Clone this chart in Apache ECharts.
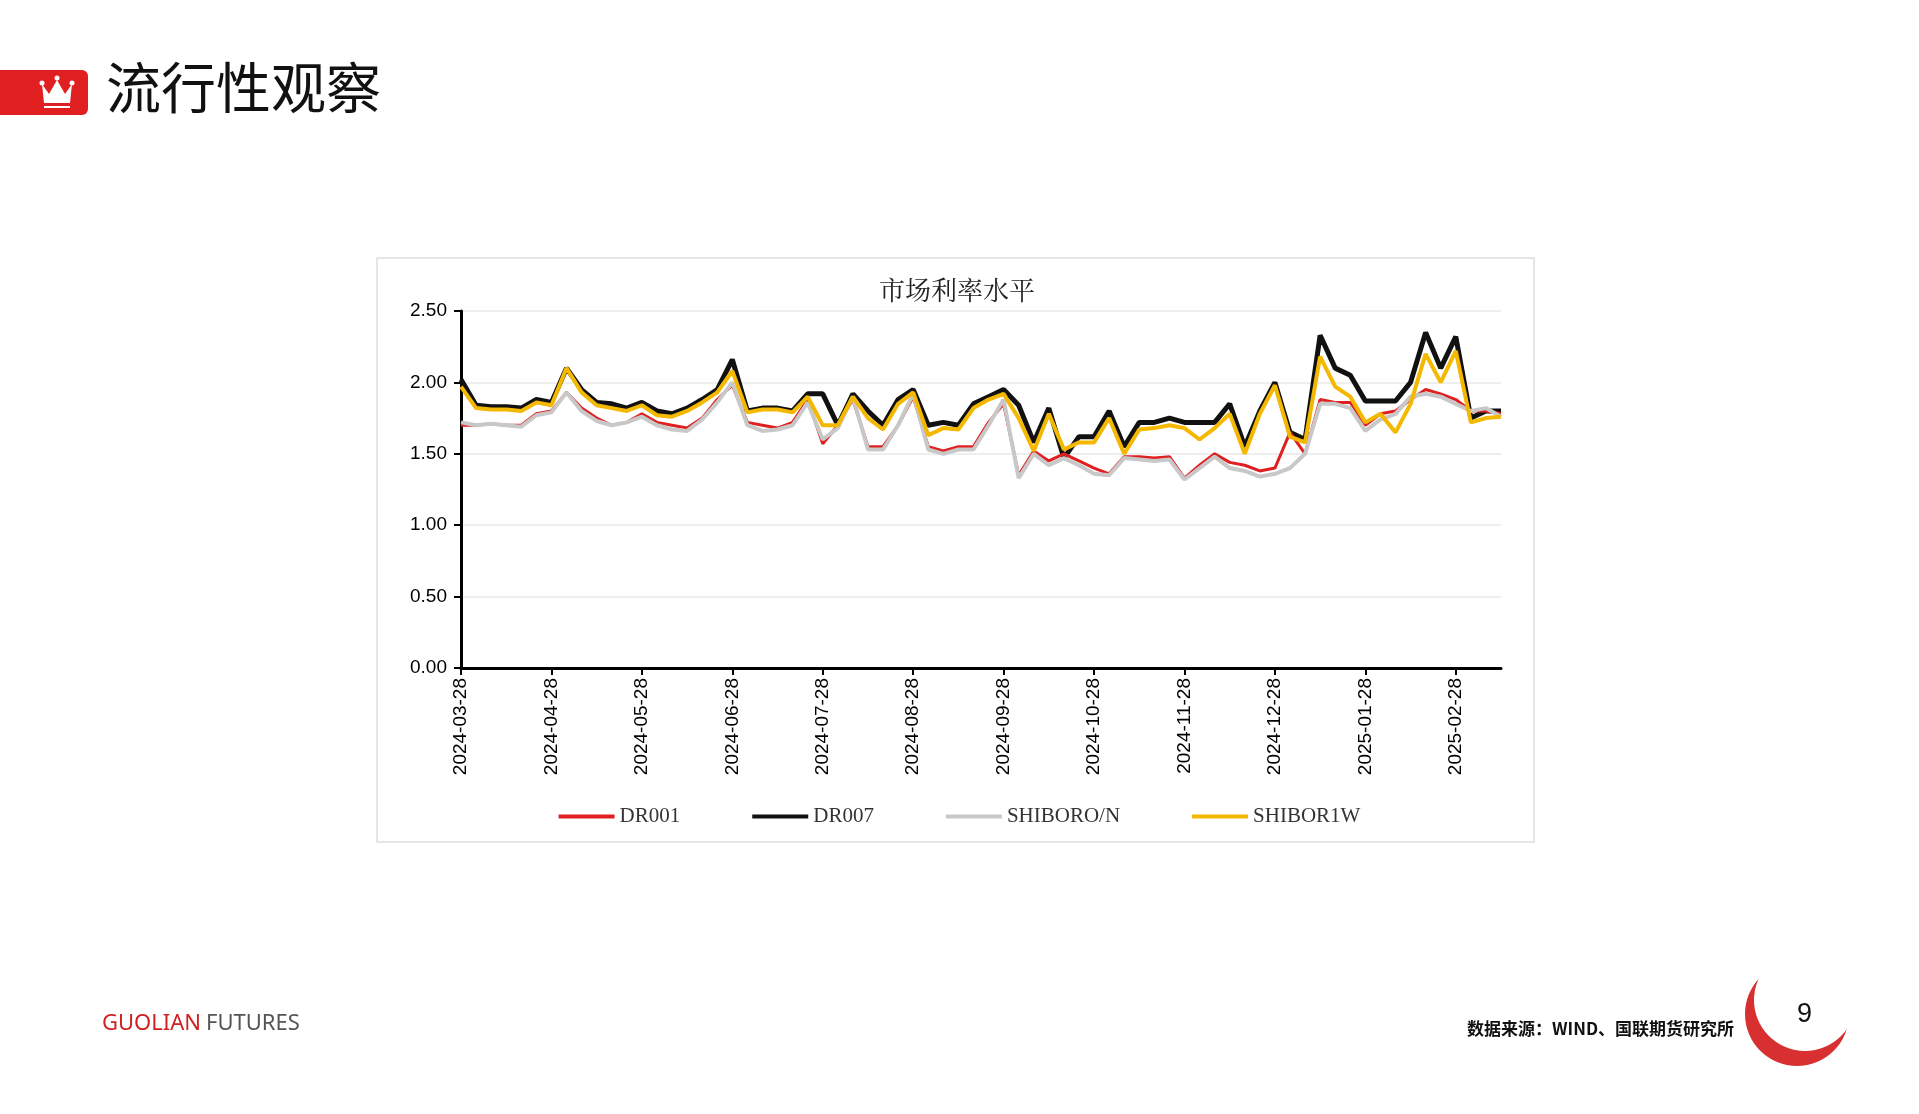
<!DOCTYPE html>
<html><head><meta charset="utf-8">
<script src="https://cdn.jsdelivr.net/npm/echarts@6/dist/echarts.min.js"></script>
<style>html,body{margin:0;padding:0;background:#fff}#c{width:1919px;height:1114px}</style>
</head><body><div id="c"></div>
<script>
const dates = ['2024-03-28',
'2024-04-03','2024-04-08','2024-04-13','2024-04-18','2024-04-23','2024-04-28',
'2024-05-03','2024-05-08','2024-05-13','2024-05-18','2024-05-23','2024-05-28',
'2024-06-03','2024-06-08','2024-06-13','2024-06-18','2024-06-23','2024-06-28',
'2024-07-03','2024-07-08','2024-07-13','2024-07-18','2024-07-23','2024-07-28',
'2024-08-03','2024-08-08','2024-08-13','2024-08-18','2024-08-23','2024-08-28',
'2024-09-03','2024-09-08','2024-09-13','2024-09-18','2024-09-23','2024-09-28',
'2024-10-03','2024-10-08','2024-10-13','2024-10-18','2024-10-23','2024-10-28',
'2024-11-03','2024-11-08','2024-11-13','2024-11-18','2024-11-23','2024-11-28',
'2024-12-03','2024-12-08','2024-12-13','2024-12-18','2024-12-23','2024-12-28',
'2025-01-03','2025-01-08','2025-01-13','2025-01-18','2025-01-23','2025-01-28',
'2025-02-03','2025-02-08','2025-02-13','2025-02-18','2025-02-23','2025-02-28',
'2025-03-03','2025-03-08','2025-03-13'];
const dr007 = [2.02,
1.84,1.83,1.83,1.82,1.88,1.86,
2.10,1.95,1.86,1.85,1.82,1.86,
1.80,1.78,1.82,1.88,1.95,2.16,
1.80,1.82,1.82,1.80,1.92,1.92,
1.70,1.92,1.80,1.70,1.88,1.95,
1.70,1.72,1.70,1.85,1.90,1.95,
1.84,1.58,1.82,1.47,1.62,1.62,
1.80,1.55,1.72,1.72,1.75,1.72,
1.72,1.72,1.85,1.55,1.80,2.00,
1.65,1.60,2.33,2.10,2.05,1.87,
1.87,1.87,2.00,2.35,2.10,2.32,
1.75,1.80,1.80];
const shibor1w = [1.97,
1.82,1.81,1.81,1.80,1.86,1.84,
2.10,1.93,1.84,1.82,1.80,1.84,
1.77,1.76,1.80,1.86,1.93,2.08,
1.79,1.81,1.81,1.79,1.90,1.70,
1.70,1.90,1.75,1.67,1.85,1.93,
1.63,1.68,1.67,1.82,1.88,1.92,
1.75,1.52,1.78,1.53,1.58,1.58,
1.75,1.50,1.67,1.68,1.70,1.68,
1.60,1.68,1.78,1.50,1.78,1.98,
1.62,1.58,2.18,1.97,1.90,1.72,
1.78,1.65,1.85,2.20,2.00,2.22,
1.72,1.75,1.76];
const dr001 = [1.70,
1.70,1.71,1.70,1.70,1.78,1.80,
1.93,1.82,1.75,1.70,1.72,1.78,
1.72,1.70,1.68,1.75,1.88,1.98,
1.72,1.70,1.68,1.72,1.88,1.57,
1.70,1.88,1.55,1.55,1.70,1.90,
1.55,1.52,1.55,1.55,1.72,1.85,
1.35,1.52,1.45,1.50,1.45,1.40,
1.36,1.48,1.48,1.47,1.48,1.33,
1.42,1.50,1.44,1.42,1.38,1.40,
1.65,1.50,1.88,1.86,1.86,1.70,
1.78,1.80,1.88,1.95,1.92,1.88,
1.80,1.80,1.78];
const shiborON = [1.72,
1.70,1.71,1.70,1.69,1.77,1.79,
1.93,1.80,1.73,1.70,1.72,1.76,
1.70,1.67,1.66,1.74,1.86,2.00,
1.70,1.66,1.67,1.70,1.86,1.60,
1.68,1.90,1.53,1.53,1.70,1.92,
1.53,1.50,1.53,1.53,1.70,1.88,
1.33,1.50,1.42,1.47,1.42,1.36,
1.35,1.47,1.46,1.45,1.46,1.32,
1.40,1.48,1.40,1.38,1.34,1.36,
1.40,1.50,1.85,1.85,1.82,1.66,
1.74,1.78,1.90,1.92,1.90,1.85,
1.80,1.82,1.76];

const chart = echarts.init(document.getElementById('c'));
const lab = {fontFamily:'Liberation Sans, Arial', fontSize:19, color:'#000'};
const is28 = (i, v) => v.endsWith('-28');
chart.setOption({
  animation:false,
  title:{text:'市场利率水平', left:952, top:272, textAlign:'center',
    textStyle:{fontFamily:'Noto Serif CJK SC, serif', fontWeight:'normal', fontSize:26, color:'#222'}},
  legend:{top:801, left:'center', itemWidth:56, itemHeight:4, itemGap:72, icon:'rect',
    data:['DR001','DR007','SHIBORO/N','SHIBOR1W'],
    textStyle:{fontFamily:'Liberation Serif, serif', fontSize:21, color:'#333'}},
  grid:{left:461, right:418, top:311, bottom:446, containLabel:false},
  xAxis:{type:'category', data:dates, boundaryGap:false,
    axisLine:{lineStyle:{color:'#000', width:3}},
    axisTick:{interval:is28, length:7, lineStyle:{color:'#000', width:2}},
    axisLabel:Object.assign({}, lab, {interval:is28, rotate:90, margin:10})},
  yAxis:{type:'value', min:0, max:2.5, interval:0.5,
    axisLine:{show:true, lineStyle:{color:'#000', width:3}},
    axisTick:{show:true, length:7, lineStyle:{color:'#000', width:2}},
    splitLine:{lineStyle:{color:'#eee', width:2}},
    axisLabel:Object.assign({}, lab, {formatter:v=>v.toFixed(2), margin:14})},
  series:[
    {name:'DR007', type:'line', data:dr007, showSymbol:false, lineStyle:{color:'#111', width:5}, itemStyle:{color:'#111'}, z:2},
    {name:'DR001', type:'line', data:dr001, showSymbol:false, lineStyle:{color:'#e02020', width:3}, itemStyle:{color:'#e02020'}, z:3},
    {name:'SHIBORO/N', type:'line', data:shiborON, showSymbol:false, lineStyle:{color:'#c8c8c8', width:4}, itemStyle:{color:'#c8c8c8'}, z:4},
    {name:'SHIBOR1W', type:'line', data:shibor1w, showSymbol:false, lineStyle:{color:'#f5b800', width:4}, itemStyle:{color:'#f5b800'}, z:5}
  ],
  graphic:[
    {type:'rect', shape:{x:377,y:258,width:1157,height:584}, style:{fill:'none', stroke:'#ddd', lineWidth:1.5}, silent:true},
    {type:'rect', shape:{x:-10,y:70,width:98,height:45,r:6}, style:{fill:'#e02020'}},
    {type:'polygon', shape:{points:[[42,84],[49,94],[57,80],[65,94],[72,84],[70,103],[44,103]]}, style:{fill:'#fff'}},
    {type:'circle', shape:{cx:42,cy:83,r:2.5}, style:{fill:'#fff'}},
    {type:'circle', shape:{cx:57,cy:78,r:2.5}, style:{fill:'#fff'}},
    {type:'circle', shape:{cx:72,cy:83,r:2.5}, style:{fill:'#fff'}},
    {type:'rect', shape:{x:44,y:106,width:26,height:2}, style:{fill:'#fff'}},
    {type:'text', left:106, top:60, style:{text:'流行性观察', font:'55px "Noto Sans CJK SC"', fill:'#111'}},
    {type:'text', left:102, top:1013, style:{text:'GUOLIAN', font:'22px "Noto Sans", sans-serif', fill:'#d02020'}},
    {type:'text', left:206, top:1013, style:{text:'FUTURES', font:'22px "Noto Sans", sans-serif', fill:'#555'}},
    {type:'circle', shape:{cx:1797,cy:1014,r:52}, style:{fill:'#d83030'}},
    {type:'circle', shape:{cx:1805,cy:1000,r:51}, style:{fill:'#fff'}},
    {type:'text', left:1797, top:1001, style:{text:'9', font:'27px "Liberation Sans"', fill:'#111'}},
    {type:'text', left:1467, top:1020, style:{text:'数据来源：WIND、国联期货研究所', font:'bold 17px "Noto Sans CJK SC"', fill:'#111'}}
  ]
});
</script></body></html>
